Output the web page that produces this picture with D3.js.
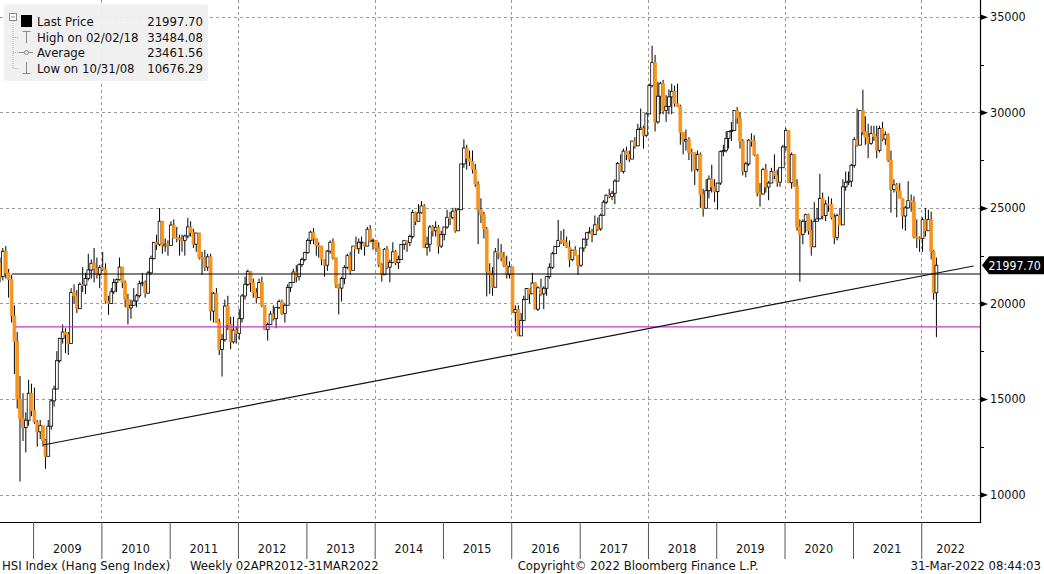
<!DOCTYPE html>
<html>
<head>
<meta charset="utf-8">
<script src="https://cdn.jsdelivr.net/npm/d3@7"></script>
<style>
  body { margin: 0; background: #fff; }
  svg text { font-family: "DejaVu Sans Condensed", "DejaVu Sans", sans-serif; }
</style>
</head>
<body>
<svg id="chart" width="1044" height="574"></svg>
<script>
// HSI at half-month resolution: [high, low, close]
// (open of each bar = previous close)
const firstOpen = 22100;
const bars2008 = [ // Jul..Dec
  [22400,21100,21400],[22900,21200,22730],[23000,21300,21600],[21800,20300,21260],
  [21500,19000,19350],[19900,16300,18016],[18500,14500,15000],[16200,10676,13969],
  [15300,12800,13500],[14300,12200,13888],[16000,13600,15300],[15800,14100,14387]];
const bars2009 = [
  [15600,13700,13800],[13900,12500,13278],[13900,12900,13600],[13600,12500,12812],
  [12900,11344,12000],[13900,12000,13576],[15000,13400,14900],[15700,14600,15521],
  [17500,15500,17000],[18200,16900,18171],[18900,17900,18500],[18700,17400,18379],
  [18500,17300,17900],[20800,17900,20573],[21000,20000,20400],[20700,19500,19724],
  [21100,19700,21000],[21900,20600,20955],[21600,20500,21300],[22600,21200,21752],
  [22300,21300,22100],[22900,21100,21821],[22400,21300,21500],[22000,20800,21873]];
const bars2010 = [
  [22700,21700,21800],[22100,20000,20122],[20400,19400,20000],[20800,20000,20608],
  [21300,20500,21100],[21300,20600,21239],[22400,21200,21900],[21900,20800,21108],
  [21200,19800,20200],[20500,18900,19765],[20200,19200,19900],[20800,19900,20129],
  [20500,19800,20400],[21200,20300,21030],[21600,20900,21100],[21200,20300,20537],
  [21700,20500,21600],[22500,21500,22358],[23200,22300,23200],[23600,22800,23096],
  [24988,23000,24300],[24200,22600,23008],[23400,22700,23100],[23300,22500,23035]];
const bars2011 = [
  [24300,23100,24100],[24400,23400,23447],[24000,23200,23400],[23600,22500,23338],
  [23600,22700,23300],[23600,22500,23528],[24468,23400,24000],[24300,23500,23720],
  [23900,22900,23100],[23600,22700,23684],[23700,22300,22400],[22700,21500,22398],
  [22800,21700,21900],[22600,21700,22440],[22600,19100,19600],[20600,19000,20535],
  [20800,19000,19000],[19200,17300,17592],[18400,16170,18100],[20200,18000,19864],
  [20400,18600,18900],[19300,17600,17989],[19300,17900,18600],[18800,17900,18434]];
const bars2012 = [
  [19700,18100,19200],[20500,19000,20390],[21400,20200,21000],[21760,20900,21680],
  [21500,20600,21100],[21300,20300,20556],[20800,20000,20300],[21300,20300,21094],
  [21400,19800,19900],[19900,18600,18630],[19000,18056,18900],[19600,18900,19441],
  [19900,19100,19200],[19800,18700,19796],[20200,19700,20100],[20200,19400,19482],
  [20000,19000,19900],[21000,20300,20840],[21100,20600,21100],[21800,21100,21642],
  [22000,21100,21400],[22100,21200,22030],[22400,21900,22300],[22700,22200,22657]];
const bars2013 = [
  [23400,22600,23300],[23800,23100,23730],[23944,23100,23400],[23400,22500,23020],
  [23200,22400,23000],[22900,22000,22300],[22300,21400,22000],[22800,21700,22737],
  [23300,22600,23200],[23400,22300,22392],[22400,20800,21000],[21000,19426,20803],
  [21400,20100,21300],[22000,21000,21884],[22600,21800,22500],[22700,21500,21731],
  [23000,21800,23000],[23500,22900,22860],[23400,22600,23200],[23500,22800,23206],
  [23100,22500,23000],[24000,23000,23881],[24100,23200,23300],[23400,22800,23306]];
const bars2014 = [
  [23300,22700,22900],[23200,21900,22035],[22100,21138,21500],[22900,21500,22837],
  [23000,21800,21900],[22300,21100,22151],[23200,22100,22700],[22800,22000,22134],
  [22500,21800,22300],[23100,22300,23082],[23300,22800,23300],[23300,22700,23191],
  [23600,23000,23500],[24900,23400,24757],[24800,24100,24300],[25200,24500,24742],
  [25362,24700,25100],[25200,22900,22933],[23500,22500,23100],[24100,22700,23998],
  [24100,23500,23800],[24300,23500,23987],[24100,22600,23000],[23800,22900,23605]];
const bars2015 = [
  [24000,23300,24000],[24900,23900,24507],[24800,24100,24500],[25000,24400,24823],
  [25000,23700,23800],[25000,23800,24901],[27300,24900,27300],[28588,27100,28133],
  [28300,27000,27600],[28000,27200,27424],[28000,26800,27000],[27300,26100,26250],
  [26400,23100,24900],[25500,24200,24636],[24800,23400,23900],[24000,20368,21670],
  [22100,20500,21500],[21900,20400,20846],[22900,21100,22700],[23400,22300,22640],
  [23100,22200,22400],[22700,21900,21996],[22500,21300,21500],[22200,21300,21914]];
const bars2016 = [
  [21900,19500,19521],[19900,18534,19683],[19900,18300,18300],[19500,18300,19112],
  [20400,19100,20200],[20800,20200,20777],[20800,20000,20500],[21600,20500,21067],
  [21100,19700,19700],[20900,19600,20815],[21300,20400,20500],[20900,19700,20794],
  [21400,20400,21400],[22100,21300,21891],[22700,21800,22600],[23000,22600,22977],
  [24364,23000,23300],[23800,23100,23297],[23900,23000,23200],[23500,22900,22935],
  [23300,21900,22300],[22800,22200,22790],[23000,22500,22500],[22500,21500,22001]];
const bars2017 = [
  [22900,21900,22900],[23400,22700,23361],[23700,23000,23700],[24000,23700,23741],
  [23900,23200,23600],[24600,23700,24112],[24500,23800,23900],[24700,23800,24615],
  [25400,24600,25300],[25700,25200,25661],[26000,25500,25600],[25900,25400,25765],
  [26500,25200,26400],[27400,26400,27324],[27800,26900,26900],[28100,26800,27970],
  [28200,27500,27800],[28000,27400,27554],[28500,27600,28500],[28700,28100,28246],
  [29400,28400,29100],[30200,29100,29177],[29300,28100,28800],[30000,28700,29919]];
const bars2018 = [
  [31500,29900,31400],[33484,31300,32600],[33000,29000,29500],[31600,29400,30845],
  [31600,29900,31500],[31700,29900,30093],[30900,29500,30300],[31200,29900,30808],
  [31500,29900,31100],[31400,30300,30469],[31500,30300,30300],[30400,28300,28955],
  [28900,27800,28500],[29100,28000,28583],[28700,27500,27900],[28100,26900,27889],
  [27900,26200,27000],[28000,26900,27789],[27900,25000,25700],[26000,24540,24980],
  [26500,25000,25900],[26700,25500,26507],[27260,25800,26100],[26500,25300,25846]];
const bars2019 = [
  [26300,24900,26300],[28000,26200,27942],[28300,27700,28000],[29000,27900,28633],
  [29000,28100,29000],[29500,28500,29051],[30100,29400,30100],[30280,29400,29699],
  [30000,28100,28500],[28600,26700,26901],[27400,26600,27300],[28600,27200,28543],
  [28900,28200,28500],[28800,27700,27778],[27800,25600,25800],[26300,25064,25725],
  [27100,25700,27000],[27300,25800,26092],[26400,25400,26300],[27100,26300,26907],
  [27800,26500,26700],[27000,26100,26346],[27100,26100,27100],[28300,27500,28190]];
const bars2020 = [
  [29175,28000,29056],[29000,26300,26313],[27900,26000,27800],[27800,26100,26130],
  [26500,23800,24000],[24400,21139,23603],[24400,23100,24300],[24700,23700,24644],
  [24700,23600,23800],[24400,22500,22961],[25300,23000,24300],[25000,24300,24427],
  [26782,24400,25500],[25800,24400,24595],[25400,24300,25200],[25600,24800,25177],
  [25500,24400,24500],[24700,23100,23459],[24700,23300,24600],[25000,24100,24107],
  [26500,24100,26100],[26900,25900,26341],[26900,26200,26400],[27300,26100,27231]];
const bars2021 = [
  [28700,27100,28573],[30200,28200,28284],[30100,28300,30100],[31183,28800,28980],
  [29800,28300,28700],[29400,27600,28378],[29300,28300,28900],[29300,28500,28724],
  [29300,27600,28000],[29300,27900,29151],[29500,28500,28600],[29000,28300,28828],
  [28900,27400,27500],[28000,24748,25961],[26500,25800,26200],[26300,24500,25879],
  [26300,25500,25500],[25300,23900,24576],[25100,23800,25000],[26400,25000,25377],
  [25700,24800,25300],[25600,23400,23475],[24400,22900,23420],[23500,22700,23398]];
const bars2022 = [ // Jan..Mar
  [24500,22700,24383],[25000,23500,23802],[24900,23800,24400],[24800,22300,22713],
  [22800,20200,20554],[22400,18235,21997.70]];

const yTicks = [10000, 15000, 20000, 25000, 30000, 35000];
const yMinorTicks = [12500, 17500, 22500, 27500, 32500];
const years = [2009, 2010, 2011, 2012, 2013, 2014, 2015, 2016, 2017, 2018, 2019, 2020, 2021, 2022];
const gridYears = [2010, 2012, 2014, 2016, 2018, 2020, 2022];

const lastPrice = 21997.70;
const supportLevel = 21540;   // black horizontal
const supportFrom = "2008-09-10";
const magentaLevel = 18770;   // magenta horizontal
const magentaFrom = "2008-09-30";
const trendLine = [["2009-02-23", 12590], ["2022-10-08", 21960]];

const legendRows = [
  ["Last Price", "21997.70"],
  ["High on 02/02/18", "33484.08"],
  ["Average", "23461.56"],
  ["Low on 10/31/08", "10676.29"]
];
const footerLeft = "HSI Index (Hang Seng Index)";
const footerLeft2 = "Weekly 02APR2012-31MAR2022";
const footerMid = "Copyright\u00A9 2022 Bloomberg Finance L.P.";
const footerRight = "31-Mar-2022 08:44:03";

// ---- build bars
const yearBars = [[2008, 6, bars2008], [2009, 0, bars2009], [2010, 0, bars2010], [2011, 0, bars2011],
  [2012, 0, bars2012], [2013, 0, bars2013], [2014, 0, bars2014], [2015, 0, bars2015],
  [2016, 0, bars2016], [2017, 0, bars2017], [2018, 0, bars2018], [2019, 0, bars2019],
  [2020, 0, bars2020], [2021, 0, bars2021], [2022, 0, bars2022]];
const bars = [];
let prevClose = firstOpen;
yearBars.forEach(([yr, m0, rows]) => {
  rows.forEach((r, i) => {
    bars.push({
      date: new Date(yr, m0 + Math.floor(i / 2), i % 2 ? 23 : 8),
      open: prevClose, high: r[0], low: r[1], close: r[2]
    });
    prevClose = r[2];
  });
});

const parseDate = d3.timeParse("%Y-%m-%d");
const W = 980, H = 522;
const orange = "#f7941e";

const svg = d3.select("#chart");
const x = d3.scaleTime()
  .domain([new Date(2008, 6, 8), new Date(2022, 10, 11)])
  .range([0, W]);
const y = d3.scaleLinear()
  .domain([8561, 35879])
  .range([H, 0]);

svg.append("defs").append("clipPath").attr("id", "plot")
  .append("rect").attr("width", W).attr("height", H);

// grid
const grid = svg.append("g").attr("stroke", "#9a9a9a").attr("stroke-dasharray", "3,3").attr("stroke-width", 1);
grid.selectAll(".hg").data(yTicks).enter().append("line")
  .attr("x1", 0).attr("x2", W)
  .attr("y1", d => Math.round(y(d)) + 0.5).attr("y2", d => Math.round(y(d)) + 0.5);
grid.selectAll(".vg").data(gridYears).enter().append("line")
  .attr("y1", 0).attr("y2", H)
  .attr("x1", d => Math.round(x(new Date(d, 0, 1))) + 0.5)
  .attr("x2", d => Math.round(x(new Date(d, 0, 1))) + 0.5);

// legend box
const leg = svg.append("g");
leg.append("rect").attr("x", 4).attr("y", 4).attr("width", 204).attr("height", 77)
  .attr("rx", 3).attr("fill", "#efefef").attr("opacity", 0.93);

// candles
const plot = svg.append("g").attr("clip-path", "url(#plot)");
const bw = 2.8;
const candle = plot.selectAll(".c").data(bars).enter().append("g");
candle.append("line")
  .attr("x1", d => x(d.date)).attr("x2", d => x(d.date))
  .attr("y1", d => y(Math.max(d.high, d.open, d.close)))
  .attr("y2", d => y(Math.min(d.low, d.open, d.close)))
  .attr("stroke", "#000").attr("stroke-width", 1);
candle.append("rect")
  .attr("x", d => x(d.date) - bw / 2)
  .attr("width", bw)
  .attr("y", d => y(Math.max(d.open, d.close)))
  .attr("height", d => Math.max(1, y(Math.min(d.open, d.close)) - y(Math.max(d.open, d.close))))
  .attr("fill", d => d.close >= d.open ? "#fff" : orange)
  .attr("stroke", d => d.close >= d.open ? "#000" : orange)
  .attr("stroke-width", 0.8);

// drawn lines
plot.append("line")
  .attr("x1", x(parseDate(supportFrom))).attr("x2", W)
  .attr("y1", y(supportLevel)).attr("y2", y(supportLevel))
  .attr("stroke", "#000").attr("stroke-width", 1.2);
plot.append("line")
  .attr("x1", x(parseDate(magentaFrom))).attr("x2", W)
  .attr("y1", y(magentaLevel)).attr("y2", y(magentaLevel))
  .attr("stroke", "#cc33cc").attr("stroke-width", 1.4);
plot.append("line")
  .attr("x1", x(parseDate(trendLine[0][0]))).attr("y1", y(trendLine[0][1]))
  .attr("x2", x(parseDate(trendLine[1][0]))).attr("y2", y(trendLine[1][1]))
  .attr("stroke", "#111").attr("stroke-width", 1.2);

// frame
svg.append("path").attr("d", `M0,${H + 0.5}H${W + 0.5}V0`)
  .attr("fill", "none").attr("stroke", "#000").attr("stroke-width", 1.2);

// right axis
const yAxis = svg.append("g").attr("transform", `translate(${W},0)`)
  .call(d3.axisRight(y).tickValues(yTicks).tickSize(0).tickPadding(10).tickFormat(d3.format("d")));
yAxis.select(".domain").remove();
yAxis.selectAll("text").attr("font-size", 12.5).attr("fill", "#111")
  .attr("font-family", "DejaVu Sans Condensed, DejaVu Sans, sans-serif");
yAxis.selectAll(".tick").append("path")
  .attr("d", "M0,-3L8,0L0,3Z").attr("fill", "#000");
svg.append("g").selectAll("line").data(yMinorTicks).enter().append("line")
  .attr("x1", W).attr("x2", W + 4)
  .attr("y1", d => Math.round(y(d)) + 0.5).attr("y2", d => Math.round(y(d)) + 0.5)
  .attr("stroke", "#000");

// last price tag
const yl = y(lastPrice);
svg.append("path")
  .attr("d", `M${W + 2},${yl}L${W + 9},${yl - 9}H1044V${yl + 9}H${W + 9}Z`)
  .attr("fill", "#000");
svg.append("text").attr("x", W + 8.5).attr("y", yl).attr("dy", "0.36em")
  .attr("font-size", 12.2).attr("fill", "#fff").text(d3.format(".2f")(lastPrice));

// bottom year axis
const xAxis = svg.append("g").attr("transform", `translate(0,${H})`)
  .call(d3.axisBottom(x).tickValues(years.map(d => new Date(d, 0, 1))).tickSize(37).tickFormat(""));
xAxis.select(".domain").remove();
xAxis.selectAll(".tick line").attr("stroke", "#555");
svg.append("g").selectAll("text").data(years).enter().append("text")
  .attr("x", d => (x(new Date(d, 0, 1)) + Math.min(W, x(new Date(d + 1, 0, 1)))) / 2)
  .attr("y", 553).attr("text-anchor", "middle").attr("font-size", 12.5).attr("fill", "#111")
  .text(d => d);

// legend contents
const rowY = [21, 37, 52, 68];
const lg = "#8a8a8a";
leg.append("rect").attr("x", 9.5).attr("y", 13.5).attr("width", 7).attr("height", 7)
  .attr("fill", "#fff").attr("stroke", lg);
leg.append("line").attr("x1", 11).attr("x2", 15).attr("y1", 17).attr("y2", 17).attr("stroke", lg);
leg.append("path").attr("d", "M13,21V68.5H19M13,37.5H19M13,52.5H18")
  .attr("fill", "none").attr("stroke", "#b0b0b0").attr("stroke-dasharray", "1,1");
leg.append("rect").attr("x", 21).attr("y", 15).attr("width", 11).attr("height", 12).attr("fill", "#000");
leg.append("path").attr("d", "M22.5,31.5H30.5M26.5,31.5V43").attr("stroke", lg).attr("fill", "none");
leg.append("path").attr("d", "M19,52.5H33").attr("stroke", lg);
leg.append("circle").attr("cx", 26.5).attr("cy", 52.5).attr("r", 2).attr("fill", "#efefef").attr("stroke", lg);
leg.append("path").attr("d", "M26.5,62V73.5M22.5,73.5H30.5").attr("stroke", lg).attr("fill", "none");
leg.selectAll(".lt").data(legendRows).enter().append("text")
  .attr("x", 37).attr("y", (d, i) => rowY[i]).attr("dy", "0.36em")
  .attr("font-size", 13).attr("fill", "#111").text(d => d[0]);
leg.selectAll(".lv").data(legendRows).enter().append("text")
  .attr("x", 203).attr("y", (d, i) => rowY[i]).attr("dy", "0.36em").attr("text-anchor", "end")
  .attr("font-size", 13).attr("fill", "#111").text(d => d[1]);

// footer
const foot = svg.append("g").attr("font-size", 13).attr("fill", "#111");
foot.append("text").attr("x", 2).attr("y", 570).text(footerLeft);
foot.append("text").attr("x", 190).attr("y", 570).text(footerLeft2);
foot.append("text").attr("x", 638).attr("y", 570).attr("text-anchor", "middle").text(footerMid);
foot.append("text").attr("x", 1041).attr("y", 570).attr("text-anchor", "end").text(footerRight);
</script>
</body>
</html>
